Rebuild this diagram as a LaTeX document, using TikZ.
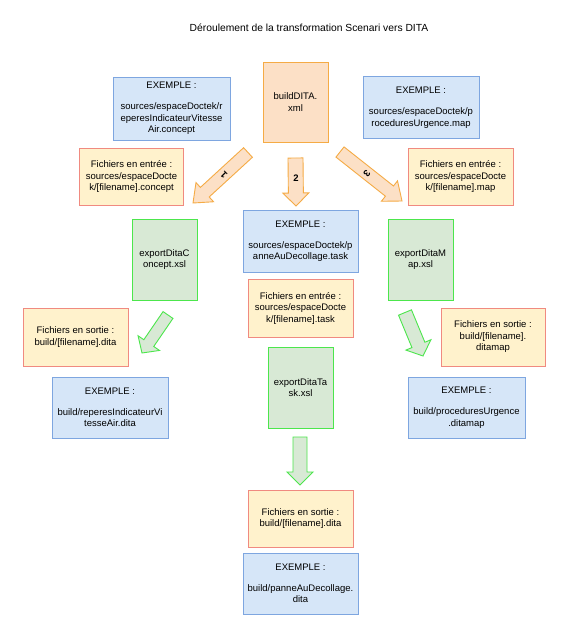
\documentclass[tikz,border=0pt]{standalone}
\usepackage{fontspec}
\setmainfont{Liberation Sans}
\usetikzlibrary{calc}
\definecolor{bluefill}{HTML}{D6E6F8}
\definecolor{bluedraw}{HTML}{7EA6E0}
\definecolor{orfill}{HTML}{FCE0C6}
\definecolor{ordraw}{HTML}{F5AB45}
\definecolor{yelfill}{HTML}{FFF2CC}
\definecolor{reddraw}{HTML}{F08A80}
\definecolor{grfill}{HTML}{D8E9D5}
\definecolor{grdraw}{HTML}{4CE64C}
\newcommand\blockarr[6]{%
  \coordinate (hb) at ($(#3)!#6!(#2)$);
  \draw[#1] ($(#2)!#4!90:(#3)$) -- ($(hb)!#4!90:(#3)$) -- ($(hb)!#5!90:(#3)$)
    -- (#3) -- ($(hb)!#5!-90:(#3)$) -- ($(hb)!#4!-90:(#3)$) -- ($(#2)!#4!-90:(#3)$) -- cycle;
}
\begin{document}
\begin{tikzpicture}[x=1pt,y=-1pt,
  every node/.style={font=\fontsize{9.5}{11.5}\selectfont, align=center, inner sep=0pt},
  box/.style={draw, line width=0.9pt, rectangle},
  exbox/.style={box, fill=bluefill, draw=bluedraw},
  inbox/.style={box, fill=yelfill, draw=reddraw},
  xslbox/.style={box, fill=grfill, draw=grdraw},
  buildbox/.style={box, fill=orfill, draw=ordraw},
  orarrow/.style={fill=orfill, draw=ordraw, line width=0.9pt, line join=miter},
  grarrow/.style={fill=grfill, draw=grdraw, line width=0.9pt, line join=miter}]
\useasboundingbox (0,0) rectangle (574,630);
\fill[white] (0,0) rectangle (574,630);

\node[font=\fontsize{10.3}{12}\selectfont] (title) at (309,28) {Déroulement de la transformation Scenari vers DITA};

\node[exbox, minimum width=117pt, minimum height=63pt] (ex1) at (171.5,108.5)
  {EXEMPLE :\\[9.5pt]sources/espaceDoctek/r\\eperesIndicateurVitesse\\Air.concept};
\node[buildbox, minimum width=65pt, minimum height=80pt] (build) at (295.5,102)
  {buildDITA.\\xml};
\node[exbox, minimum width=116pt, minimum height=62pt] (ex3) at (421,107.5)
  {EXEMPLE :\\[9.5pt]sources/espaceDoctek/p\\roceduresUrgence.map};

\node[inbox, minimum width=104pt, minimum height=57pt] (in1) at (131.5,176.5)
  {Fichiers en entrée :\\sources/espaceDocte\\k/[filename].concept};
\node[inbox, minimum width=105pt, minimum height=57pt] (in3) at (460.5,176.5)
  {Fichiers en entrée :\\sources/espaceDocte\\k/[filename].map};

\node[exbox, minimum width=115pt, minimum height=62pt] (ex2) at (300.5,241)
  {EXEMPLE :\\[9.5pt]sources/espaceDoctek/p\\anneAuDecollage.task};
\node[inbox, minimum width=105pt, minimum height=58pt] (in2) at (300.5,308)
  {Fichiers en entrée :\\sources/espaceDocte\\k/[filename].task};
\node[xslbox, minimum width=65pt, minimum height=81pt] (task) at (300.5,387.5)
  {exportDitaTa\\sk.xsl};
\node[inbox, minimum width=105pt, minimum height=57pt] (out2) at (300.5,518.5)
  {Fichiers en sortie :\\build/[filename].dita};
\node[exbox, minimum width=115pt, minimum height=61pt] (ex4) at (300.5,583.5)
  {EXEMPLE :\\[9.5pt]build/panneAuDecollage.\\dita};

\node[xslbox, minimum width=65pt, minimum height=81pt] (concept) at (164.5,259.5)
  {exportDitaC\\oncept.xsl};
\node[inbox, minimum width=105pt, minimum height=58pt] (out1) at (75.5,337)
  {Fichiers en sortie :\\build/[filename].dita};
\node[exbox, minimum width=116pt, minimum height=61pt] (ex5) at (110,407.5)
  {EXEMPLE :\\[9.5pt]build/reperesIndicateurVi\\tesseAir.dita};

\node[xslbox, minimum width=65pt, minimum height=81pt] (map) at (420.5,259.5)
  {exportDitaM\\ap.xsl};
\node[inbox, minimum width=104pt, minimum height=58pt] (out3) at (493,337)
  {Fichiers en sortie :\\build/[filename].\\ditamap};
\node[exbox, minimum width=117pt, minimum height=61pt] (ex6) at (466.5,407.5)
  {EXEMPLE :\\[9.5pt]build/proceduresUrgence\\.ditamap};

% block arrows
\coordinate (a1t) at (248,152.5); \coordinate (a1h) at (193,203);
\coordinate (a2t) at (295.5,158); \coordinate (a2h) at (296,206);
\coordinate (a3t) at (340,152);   \coordinate (a3h) at (402,201);
\coordinate (g1t) at (168,315);   \coordinate (g1h) at (142,353);
\coordinate (g2t) at (405,312.5); \coordinate (g2h) at (423,356);
\coordinate (g3t) at (300,437);   \coordinate (g3h) at (300,485);
\blockarr{orarrow}{a1t}{a1h}{6.5pt}{13pt}{16pt}
\blockarr{orarrow}{a2t}{a2h}{7.5pt}{13pt}{13pt}
\blockarr{orarrow}{a3t}{a3h}{6.5pt}{13pt}{16pt}
\blockarr{grarrow}{g1t}{g1h}{6pt}{13pt}{12pt}
\blockarr{grarrow}{g2t}{g2h}{7pt}{13.5pt}{12pt}
\blockarr{grarrow}{g3t}{g3h}{7pt}{13pt}{13pt}

\node[font=\fontsize{9.5}{11.5}\selectfont\bfseries, rotate=135] (l1) at (224,175) {1};
\node[font=\fontsize{9.5}{11.5}\selectfont\bfseries] (l2) at (296,178) {2};
\node[font=\fontsize{9.5}{11.5}\selectfont\bfseries, rotate=-130] (l3) at (367,174) {3};
\end{tikzpicture}
\end{document}
